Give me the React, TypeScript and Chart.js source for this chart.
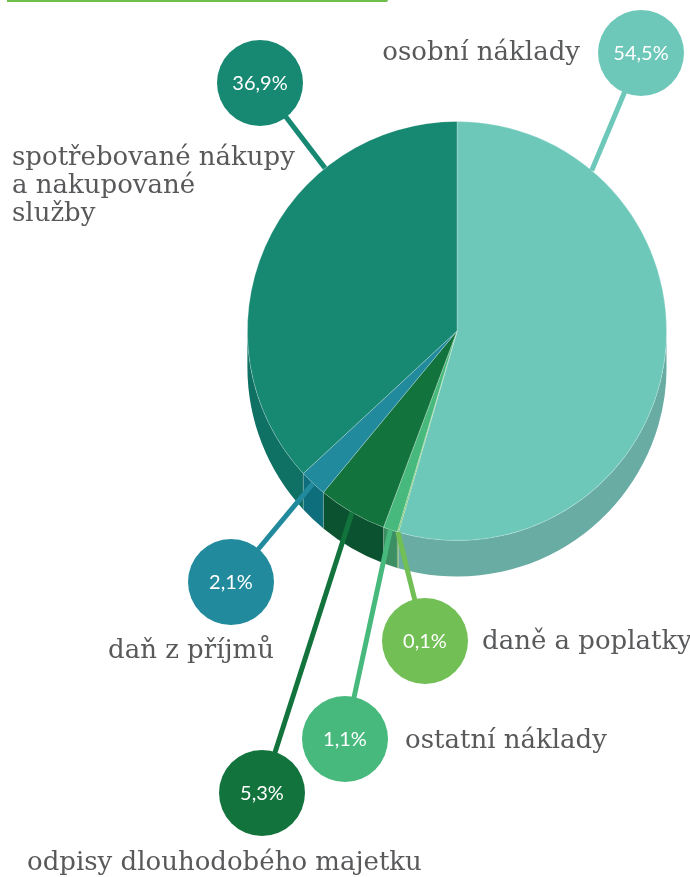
import React, { useEffect, useRef } from "react";
import { Chart, registerables } from "chart.js";

Chart.register(...registerables);

// ---- data ----
const categories = [
  "osobní náklady",
  "daně a poplatky",
  "ostatní náklady",
  "odpisy dlouhodobého majetku",
  "daň z příjmů",
  "spotřebované nákupy a nakupované služby",
];
const values = [54.5, 0.1, 1.1, 5.3, 2.1, 36.9];
const labelLines = [
  ["osobní náklady"],
  ["daně a poplatky"],
  ["ostatní náklady"],
  ["odpisy dlouhodobého majetku"],
  ["daň z příjmů"],
  ["spotřebované nákupy", "a nakupované", "služby"],
];
const topColors = ["#6DC8BA", "#72BF55", "#48B97C", "#12733C", "#218A9D", "#178872"];
const sideColors = ["#68ACA3", "#5E9842", "#3C8E63", "#0B5330", "#0F6E7C", "#0F7064"];

// ---- layout (positions of callouts, not data) ----
const DEPTH = 36;
const BUBBLE_R = 43;
const bubbles = [
  { cx: 641, cy: 53, anchorDeg: 40 },
  { cx: 425, cy: 641, anchorDeg: null },
  { cx: 345, cy: 739, anchorDeg: null },
  { cx: 262, cy: 793, anchorDeg: null },
  { cx: 231, cy: 582, anchorDeg: null },
  { cx: 260, cy: 83, anchorDeg: 321 },
];
const textPos = [
  { x: 580, y: 60, align: "right" },
  { x: 482, y: 649, align: "left" },
  { x: 405, y: 748, align: "left" },
  { x: 27, y: 870, align: "left" },
  { x: 108, y: 658, align: "left" },
  { x: 12, y: 165, align: "left" },
];

const fmt = (v: number) => v.toFixed(1).replace(".", ",") + "%";

const pie3dPlugin = {
  id: "pie3d",
  beforeDraw(chart: any) {
    const ctx = chart.ctx;
    ctx.save();
    ctx.fillStyle = "#6DBE4B";
    ctx.beginPath();
    ctx.moveTo(7, -2);
    ctx.lineTo(386, -2);
    ctx.arc(386, 0, 2, -Math.PI / 2, Math.PI / 2);
    ctx.lineTo(7, 2);
    ctx.closePath();
    ctx.fill();
    ctx.restore();
  },
  beforeDatasetsDraw(chart: any) {
    const ctx = chart.ctx;
    const meta = chart.getDatasetMeta(0);
    ctx.save();
    meta.data.forEach((arc: any, i: number) => {
      const { x, y, startAngle, endAngle, outerRadius } = arc.getProps(
        ["x", "y", "startAngle", "endAngle", "outerRadius"],
        true
      );
      const ranges: [number, number][] = [];
      const clip = (s: number, e: number, lo: number, hi: number) => {
        const a = Math.max(s, lo);
        const b = Math.min(e, hi);
        if (b > a) ranges.push([a, b]);
      };
      clip(startAngle, endAngle, 0, Math.PI);
      clip(startAngle, endAngle, 2 * Math.PI, 3 * Math.PI);
      ranges.forEach(([a, b]) => {
        ctx.beginPath();
        ctx.arc(x, y, outerRadius, a, b, false);
        ctx.lineTo(x + outerRadius * Math.cos(b), y + DEPTH + outerRadius * Math.sin(b));
        ctx.arc(x, y + DEPTH, outerRadius, b, a, true);
        ctx.closePath();
        ctx.fillStyle = sideColors[i];
        ctx.fill();
        ctx.strokeStyle = "rgba(255,255,255,0.25)";
        ctx.lineWidth = 0.8;
        ctx.beginPath();
        ctx.moveTo(x + outerRadius * Math.cos(a), y + outerRadius * Math.sin(a));
        ctx.lineTo(x + outerRadius * Math.cos(a), y + DEPTH + outerRadius * Math.sin(a));
        ctx.stroke();
      });
    });
    ctx.restore();
  },
  afterDatasetsDraw(chart: any) {
    const ctx = chart.ctx;
    const meta = chart.getDatasetMeta(0);
    ctx.save();
    meta.data.forEach((arc: any, i: number) => {
      const { x, y, startAngle, endAngle, outerRadius } = arc.getProps(
        ["x", "y", "startAngle", "endAngle", "outerRadius"],
        true
      );
      const b = bubbles[i];
      const ang =
        b.anchorDeg !== null ? (b.anchorDeg * Math.PI) / 180 - Math.PI / 2 : (startAngle + endAngle) / 2;
      const ax = x + outerRadius * Math.cos(ang);
      const ay = y + outerRadius * Math.sin(ang);
      ctx.strokeStyle = topColors[i];
      ctx.lineWidth = 5;
      ctx.lineCap = "butt";
      ctx.beginPath();
      ctx.moveTo(b.cx, b.cy);
      ctx.lineTo(ax, ay);
      ctx.stroke();
    });
    meta.data.forEach((_arc: any, i: number) => {
      const b = bubbles[i];
      ctx.fillStyle = topColors[i];
      ctx.beginPath();
      ctx.arc(b.cx, b.cy, BUBBLE_R, 0, Math.PI * 2);
      ctx.fill();
      ctx.fillStyle = "#ffffff";
      ctx.font = "400 20px Lato";
      ctx.textAlign = "center";
      ctx.textBaseline = "middle";
      ctx.fillText(fmt(values[i]), b.cx, b.cy + 1);
      const t = textPos[i];
      ctx.fillStyle = "#58595B";
      ctx.font = "26px 'DejaVu Serif'";
      ctx.textAlign = t.align as CanvasTextAlign;
      ctx.textBaseline = "alphabetic";
      labelLines[i].forEach((line, k) => {
        ctx.fillText(line, t.x, t.y + k * 28);
      });
    });
    ctx.restore();
  },
};

export default function App() {
  const ref = useRef<HTMLCanvasElement | null>(null);
  useEffect(() => {
    if (!ref.current) return;
    const chart = new Chart(ref.current, {
      type: "pie",
      data: {
        labels: categories,
        datasets: [
          {
            data: values,
            backgroundColor: topColors,
            borderColor: "rgba(255,255,255,0.3)",
            borderWidth: 0.8,
          },
        ],
      },
      options: {
        responsive: false,
        animation: false,
        layout: { padding: { left: 247, right: 23, top: 121, bottom: 336 } },
        plugins: { legend: { display: false }, tooltip: { enabled: false } },
      },
      plugins: [pie3dPlugin],
    });
    return () => chart.destroy();
  }, []);
  return (
    <div style={{ position: "absolute", left: 0, top: 0, width: 690, height: 877, background: "#fff" }}>
      <canvas ref={ref} width={690} height={877} style={{ width: 690, height: 877 }} />
    </div>
  );
}
